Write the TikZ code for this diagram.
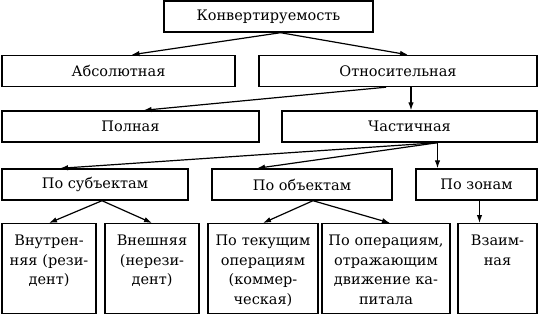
\documentclass[tikz,border=0pt]{standalone}
\usepackage{fontspec}
\setmainfont{DejaVu Serif}
\usetikzlibrary{arrows.meta}

\begin{document}
\begin{tikzpicture}[x=1pt,y=-1pt,
  box/.style={draw,line width=1.4pt,minimum height=31pt,inner sep=0pt,
    font=\fontsize{14.5}{20}\selectfont},
  leaf/.style={draw,line width=1.4pt,align=center,anchor=north,inner sep=0pt,
    text height=22pt,text depth=68pt,font=\fontsize{14.5}{19.5}\selectfont},
  arrow/.style={-{Latex[length=8pt,width=5.5pt]},line width=1.2pt}]
\useasboundingbox (0,0) rectangle (539,316);
% levels 1-3
\node[box,minimum width=209pt](conv) at (268.5,16.5){Конвертируемость};
\node[box,minimum width=233pt](abs) at (118.5,71){Абсолютная};
\node[box,minimum width=278pt](otn) at (398,71){Относительная};
\node[box,minimum width=257pt](poln) at (130.5,126.5){Полная};
\node[box,minimum width=255pt](chast) at (409.5,126.5){Частичная};
\node[box,minimum width=186pt](subj) at (95,184.5){По субъектам};
\node[box,minimum width=180pt](obj) at (302,184.5){По объектам};
\node[box,minimum width=121pt](zon) at (476.5,184.5){По зонам};
% bottom row
\node[leaf,text width=94pt](vnutr) at (49,223){Внутрен-\\няя (рези-\\дент)};
\node[leaf,text width=94pt](vnesh) at (152,223){Внешняя\\(нерези-\\дент)};
\node[leaf,text width=110pt](tek) at (263,223){По текущим\\операциям\\(коммер-\\ческая)};
\node[leaf,text width=128pt](oper) at (386,223){По операциям,\\отражающим\\движение ка-\\питала};
\node[leaf,text width=79pt](vz) at (497.5,223){Взаим-\\ная};
% connectors
\coordinate (fork) at ([xshift=28pt]chast.south);
\draw[arrow]([xshift=12pt]conv.south)--([xshift=13pt]abs.north);
\draw[arrow]([xshift=12pt]conv.south)--([xshift=10pt]otn.north);
\draw[arrow]([xshift=-12pt]otn.south)--([xshift=13pt]poln.north);
\draw[arrow]([xshift=13pt]otn.south)--([xshift=13pt]otn.south |- chast.north);
\draw[arrow](fork)--([xshift=-35pt]subj.north);
\draw[arrow](fork)--([xshift=-45pt]obj.north);
\draw[arrow](fork)--(fork |- zon.north);
\draw[arrow]([xshift=7pt]subj.south)--(vnutr.north);
\draw[arrow]([xshift=7pt]subj.south)--(vnesh.north);
\draw[arrow]([xshift=11pt]obj.south)--(tek.north);
\draw[arrow]([xshift=11pt]obj.south)--([xshift=4pt]oper.north);
\draw[arrow]([xshift=3pt]zon.south)--([xshift=3pt]zon.south |- vz.north);
\end{tikzpicture}
\end{document}
